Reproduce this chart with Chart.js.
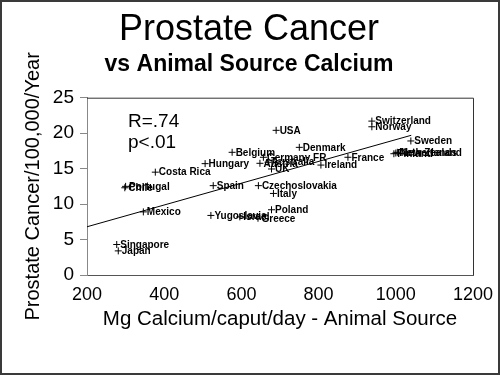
<!DOCTYPE html>
<html>
<head>
<meta charset="utf-8">
<script src="https://cdn.jsdelivr.net/npm/chart.js@4.4.1/dist/chart.umd.min.js"></script>
<style>
html,body{margin:0;padding:0;background:#fff;}
#wrap{position:relative;width:500px;height:375px;}
</style>
</head>
<body>
<div id="wrap"><canvas id="c"></canvas></div>
<script>
// ---- data ----
const countries = ["USA","Switzerland","Norway","Sweden","Denmark","Belgium","Finland","Netherlands","New Zealand","France","Germany FR","Australia","Austria","Hungary","Ireland","UK","Costa Rica","Chile","Portugal","Spain","Czechoslovakia","Italy","Poland","Mexico","Yugoslavia","Israel","Greece","Singapore","Japan"];
const calcium = [690,938,938,1039,750,576,995,1000,1004,876,657,669,648,506,806,678,377,298,300,527,644,683,678,346,521,596,643,277,281];
const cancer  = [20.4,21.7,20.9,18.9,18.0,17.3,17.1,17.2,17.3,16.6,16.6,15.9,15.75,15.7,15.5,14.95,14.5,12.3,12.5,12.6,12.6,11.5,9.2,8.9,8.4,8.2,8.0,4.3,3.4];
const trendX = [200, 1040];
const trendY = [6.8, 19.7];
const statsText = ["R=.74", "p<.01"];
const xTicks = [200,400,600,800,1000,1200];
const yTicks = [0,5,10,15,20,25];

const FONT = "'Liberation Sans', Arial, sans-serif";

const labelPlugin = {
  id: 'pointLabels',
  afterDatasetsDraw(chart) {
    const ctx = chart.ctx;
    const meta = chart.getDatasetMeta(1);
    ctx.save();
    ctx.font = "bold 10px " + FONT;
    ctx.fillStyle = "#000";
    ctx.textAlign = "left";
    ctx.textBaseline = "middle";
    meta.data.forEach((pt, i) => {
      ctx.fillText(countries[i], pt.x + 3.5, pt.y + 0.5);
    });
    // stats annotation
    const a = chart.chartArea;
    ctx.font = "19px " + FONT;
    ctx.fillText(statsText[0], a.left + 41, a.top + 24);
    ctx.fillText(statsText[1], a.left + 41, a.top + 45);
    ctx.restore();
  }
};

const framePlugin = {
  id: 'frames',
  beforeDraw(chart) {
    const ctx = chart.ctx;
    ctx.save();
    ctx.fillStyle = "#fff";
    ctx.fillRect(0, 0, chart.width, chart.height);
    ctx.restore();
  },
  afterDraw(chart) {
    const ctx = chart.ctx;
    const a = chart.chartArea;
    ctx.save();
    ctx.strokeStyle = "#333";
    ctx.lineWidth = 1;
    ctx.beginPath();
    ctx.moveTo(a.left, a.top + 0.5);
    ctx.lineTo(a.right + 0.5, a.top + 0.5);
    ctx.lineTo(a.right + 0.5, a.bottom);
    ctx.stroke();
    ctx.strokeStyle = "#3a3a3a";
    ctx.lineWidth = 2;
    ctx.strokeRect(1, 1, chart.width - 2, chart.height - 2);
    ctx.restore();
  }
};

new Chart(document.getElementById('c'), {
  type: 'scatter',
  data: {
    datasets: [
      {
        type: 'line',
        data: trendX.map((x, i) => ({x: x, y: trendY[i]})),
        borderColor: '#000',
        borderWidth: 1,
        pointRadius: 0,
        fill: false
      },
      {
        data: calcium.map((x, i) => ({x: x, y: cancer[i]})),
        pointStyle: 'cross',
        pointRadius: 3.5,
        borderColor: '#000',
        backgroundColor: '#000',
        borderWidth: 1
      }
    ]
  },
  plugins: [framePlugin, labelPlugin],
  options: {
    responsive: true,
    maintainAspectRatio: false,
    animation: false,
    layout: {padding: {left: 18, right: 20, top: 0, bottom: 0}},
    plugins: {
      legend: {display: false},
      tooltip: {enabled: false},
      title: {
        display: true,
        text: 'Prostate Cancer',
        color: '#000',
        font: {family: FONT, size: 36, weight: 'normal', lineHeight: 1.15},
        padding: {top: 9, bottom: 0}
      },
      subtitle: {
        display: true,
        text: 'vs Animal Source Calcium',
        color: '#000',
        font: {family: FONT, size: 23, weight: 'bold', lineHeight: 1.2},
        padding: {top: 0, bottom: 19.7}
      }
    },
    scales: {
      x: {
        type: 'linear',
        min: 200, max: 1200,
        afterBuildTicks(s) { s.ticks = xTicks.map(v => ({value: v})); },
        afterFit(s) { s.height = 100; s.paddingLeft = 0; s.paddingRight = 27; },
        grid: {display: true, drawOnChartArea: false, drawTicks: false},
        border: {display: true, color: '#555', width: 1},
        ticks: {color: '#000', padding: 9, maxRotation: 0, autoSkip: false,
                callback: v => String(v),
                font: {family: FONT, size: 18}},
        title: {display: true, text: 'Mg Calcium/caput/day - Animal Source', color: '#000',
                font: {family: FONT, size: 20.5}, padding: {top: 0, bottom: 43}}
      },
      y: {
        type: 'linear',
        min: 0, max: 25,
        afterBuildTicks(s) { s.ticks = yTicks.map(v => ({value: v})); },
        afterFit(s) { s.width = 69; },
        grid: {display: true, drawOnChartArea: false, drawTicks: true, tickLength: 7, color: '#888'},
        border: {display: true, color: '#888', width: 1},
        ticks: {color: '#000', padding: 6, callback: v => String(v), font: {family: FONT, size: 19}},
        title: {display: true, text: 'Prostate Cancer/100,000/Year', color: '#000',
                font: {family: FONT, size: 20}, padding: {top: 3, bottom: 0}}
      }
    }
  }
});
</script>
</body>
</html>
